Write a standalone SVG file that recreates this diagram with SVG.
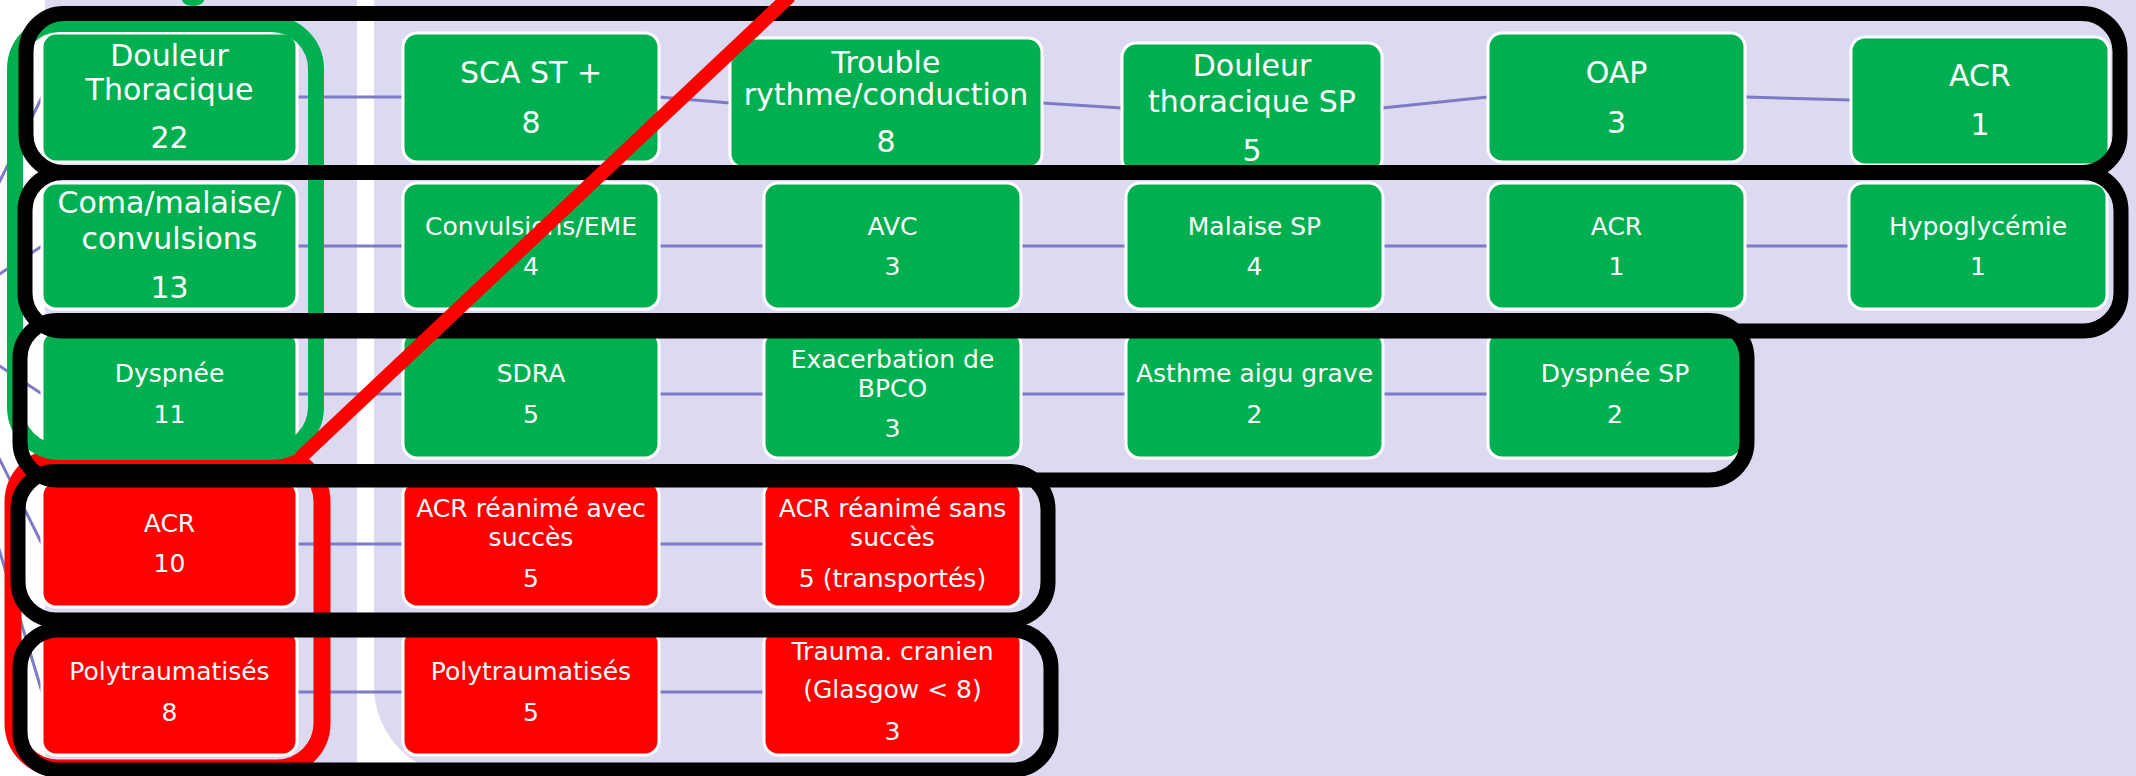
<svg xmlns="http://www.w3.org/2000/svg" width="2136" height="776" viewBox="0 0 2136 776">
<style>
.g{fill:#00b050;stroke:#ffffff;stroke-width:3}
.r{fill:#ff0000;stroke:#ffffff;stroke-width:3}
.t{font-family:"DejaVu Sans","Liberation Sans",sans-serif;fill:#ffffff;text-anchor:middle}
.b{font-size:30px}
.s{font-size:25px}
.c{stroke:#7d7ac6;stroke-width:3;fill:none}
.blk{fill:none;stroke:#000000;stroke-width:15}
</style>
<rect x="0" y="0" width="2136" height="776" fill="#ffffff"/>
<rect x="45" y="0" width="312" height="776" fill="#dcdaf0"/>
<path d="M374 0 H2136 V776 H464 A90 90 0 0 1 374 686 Z" fill="#dcdaf0"/>
<g id="connectors">
<line class="c" x1="-70" y1="320" x2="42" y2="97"/>
<line class="c" x1="-70" y1="320" x2="42" y2="246"/>
<line class="c" x1="-70" y1="320" x2="42" y2="394"/>
<line class="c" x1="-70" y1="320" x2="42" y2="544"/>
<line class="c" x1="-70" y1="320" x2="42" y2="692"/>
<line class="c" x1="297" y1="97" x2="403" y2="97"/>
<line class="c" x1="659" y1="97" x2="730" y2="103"/>
<line class="c" x1="1042" y1="103" x2="1122" y2="108"/>
<line class="c" x1="1382" y1="108" x2="1488" y2="97"/>
<line class="c" x1="1745" y1="97" x2="1851" y2="100"/>
<line class="c" x1="297" y1="246" x2="1850" y2="246"/>
<line class="c" x1="297" y1="394" x2="1488" y2="394"/>
<line class="c" x1="297" y1="544" x2="764" y2="544"/>
<line class="c" x1="297" y1="692" x2="764" y2="692"/>
</g>
<g id="n11"><rect class="g" x="42" y="33" width="255" height="129" rx="14"/><text class="t b" x="169.5" y="66">Douleur</text><text class="t b" x="169.5" y="100">Thoracique</text><text class="t b" x="169.5" y="148">22</text></g>
<g id="n12"><rect class="g" x="403" y="33" width="256" height="129" rx="14"/><text class="t b" x="531" y="83">SCA ST +</text><text class="t b" x="531" y="133">8</text></g>
<g id="n13"><rect class="g" x="730" y="38" width="312" height="130" rx="14"/><text class="t b" x="886" y="73">Trouble</text><text class="t b" x="886" y="105">rythme/conduction</text><text class="t b" x="886" y="152">8</text></g>
<g id="n14"><rect class="g" x="1122" y="43" width="260" height="130" rx="14"/><text class="t b" x="1252" y="76">Douleur</text><text class="t b" x="1252" y="112">thoracique SP</text><text class="t b" x="1252" y="161">5</text></g>
<g id="n15"><rect class="g" x="1488" y="33" width="257" height="129" rx="14"/><text class="t b" x="1616.5" y="83">OAP</text><text class="t b" x="1616.5" y="133">3</text></g>
<g id="n16"><rect class="g" x="1851" y="37" width="258" height="128" rx="14"/><text class="t b" x="1980" y="86">ACR</text><text class="t b" x="1980" y="135">1</text></g>
<g id="n21"><rect class="g" x="42" y="183" width="255" height="126" rx="14"/><text class="t b" x="169.5" y="213">Coma/malaise/</text><text class="t b" x="169.5" y="249">convulsions</text><text class="t b" x="169.5" y="298">13</text></g>
<g id="n22"><rect class="g" x="403" y="183" width="256" height="126" rx="14"/><text class="t s" x="531" y="235">Convulsions/EME</text><text class="t s" x="531" y="275">4</text></g>
<g id="n23"><rect class="g" x="764" y="183" width="257" height="126" rx="14"/><text class="t s" x="892.5" y="235">AVC</text><text class="t s" x="892.5" y="275">3</text></g>
<g id="n24"><rect class="g" x="1126" y="183" width="257" height="126" rx="14"/><text class="t s" x="1254.5" y="235">Malaise SP</text><text class="t s" x="1254.5" y="275">4</text></g>
<g id="n25"><rect class="g" x="1488" y="183" width="257" height="126" rx="14"/><text class="t s" x="1616.5" y="235">ACR</text><text class="t s" x="1616.5" y="275">1</text></g>
<g id="n26"><rect class="g" x="1849" y="183" width="258" height="126" rx="14"/><text class="t s" x="1978" y="235">Hypoglycémie</text><text class="t s" x="1978" y="275">1</text></g>
<g id="n31"><rect class="g" x="42" y="331" width="255" height="127" rx="14"/><text class="t s" x="169.5" y="382">Dyspnée</text><text class="t s" x="169.5" y="423">11</text></g>
<g id="n32"><rect class="g" x="403" y="331" width="256" height="127" rx="14"/><text class="t s" x="531" y="382">SDRA</text><text class="t s" x="531" y="423">5</text></g>
<g id="n33"><rect class="g" x="764" y="331" width="257" height="127" rx="14"/><text class="t s" x="892.5" y="368">Exacerbation de</text><text class="t s" x="892.5" y="397">BPCO</text><text class="t s" x="892.5" y="437">3</text></g>
<g id="n34"><rect class="g" x="1126" y="331" width="257" height="127" rx="14"/><text class="t s" x="1254.5" y="382">Asthme aigu grave</text><text class="t s" x="1254.5" y="423">2</text></g>
<g id="n35"><rect class="g" x="1488" y="331" width="254" height="127" rx="14"/><text class="t s" x="1615" y="382">Dyspnée SP</text><text class="t s" x="1615" y="423">2</text></g>
<g id="n41"><rect class="r" x="42" y="481" width="255" height="126" rx="14"/><text class="t s" x="169.5" y="532">ACR</text><text class="t s" x="169.5" y="572">10</text></g>
<g id="n42"><rect class="r" x="403" y="481" width="256" height="126" rx="14"/><text class="t s" x="531" y="517">ACR réanimé avec</text><text class="t s" x="531" y="546">succès</text><text class="t s" x="531" y="587">5</text></g>
<g id="n43"><rect class="r" x="764" y="481" width="257" height="126" rx="14"/><text class="t s" x="892.5" y="517">ACR réanimé sans</text><text class="t s" x="892.5" y="546">succès</text><text class="t s" x="892.5" y="587">5 (transportés)</text></g>
<g id="n51"><rect class="r" x="42" y="629" width="255" height="126" rx="14"/><text class="t s" x="169.5" y="680">Polytraumatisés</text><text class="t s" x="169.5" y="721">8</text></g>
<g id="n52"><rect class="r" x="403" y="629" width="256" height="126" rx="14"/><text class="t s" x="531" y="680">Polytraumatisés</text><text class="t s" x="531" y="721">5</text></g>
<g id="n53"><rect class="r" x="764" y="629" width="257" height="126" rx="14"/><text class="t s" x="892.5" y="660">Trauma. cranien</text><text class="t s" x="892.5" y="698">(Glasgow &lt; 8)</text><text class="t s" x="892.5" y="740">3</text></g>
<g id="highlights">
<rect x="13" y="457" width="309" height="311" rx="45" fill="none" stroke="#ff0000" stroke-width="17"/>
<rect x="15" y="24" width="301" height="428" rx="45" fill="none" stroke="#00b050" stroke-width="16"/>
<ellipse cx="193" cy="0" rx="11" ry="6" fill="#00b050"/>
</g>
<g id="groups">
<rect class="blk" x="26" y="13.5" width="2094" height="159" rx="38"/>
<rect class="blk" x="25" y="172.5" width="2096" height="158.5" rx="38"/>
<rect class="blk" x="20" y="320.5" width="1727" height="159.5" rx="38"/>
<rect class="blk" x="18" y="471.5" width="1030" height="148.5" rx="38"/>
<rect class="blk" x="20" y="630" width="1031" height="140" rx="38"/>
</g>
<line x1="790" y1="-4" x2="300" y2="458" stroke="#ff0000" stroke-width="14"/>
</svg>
